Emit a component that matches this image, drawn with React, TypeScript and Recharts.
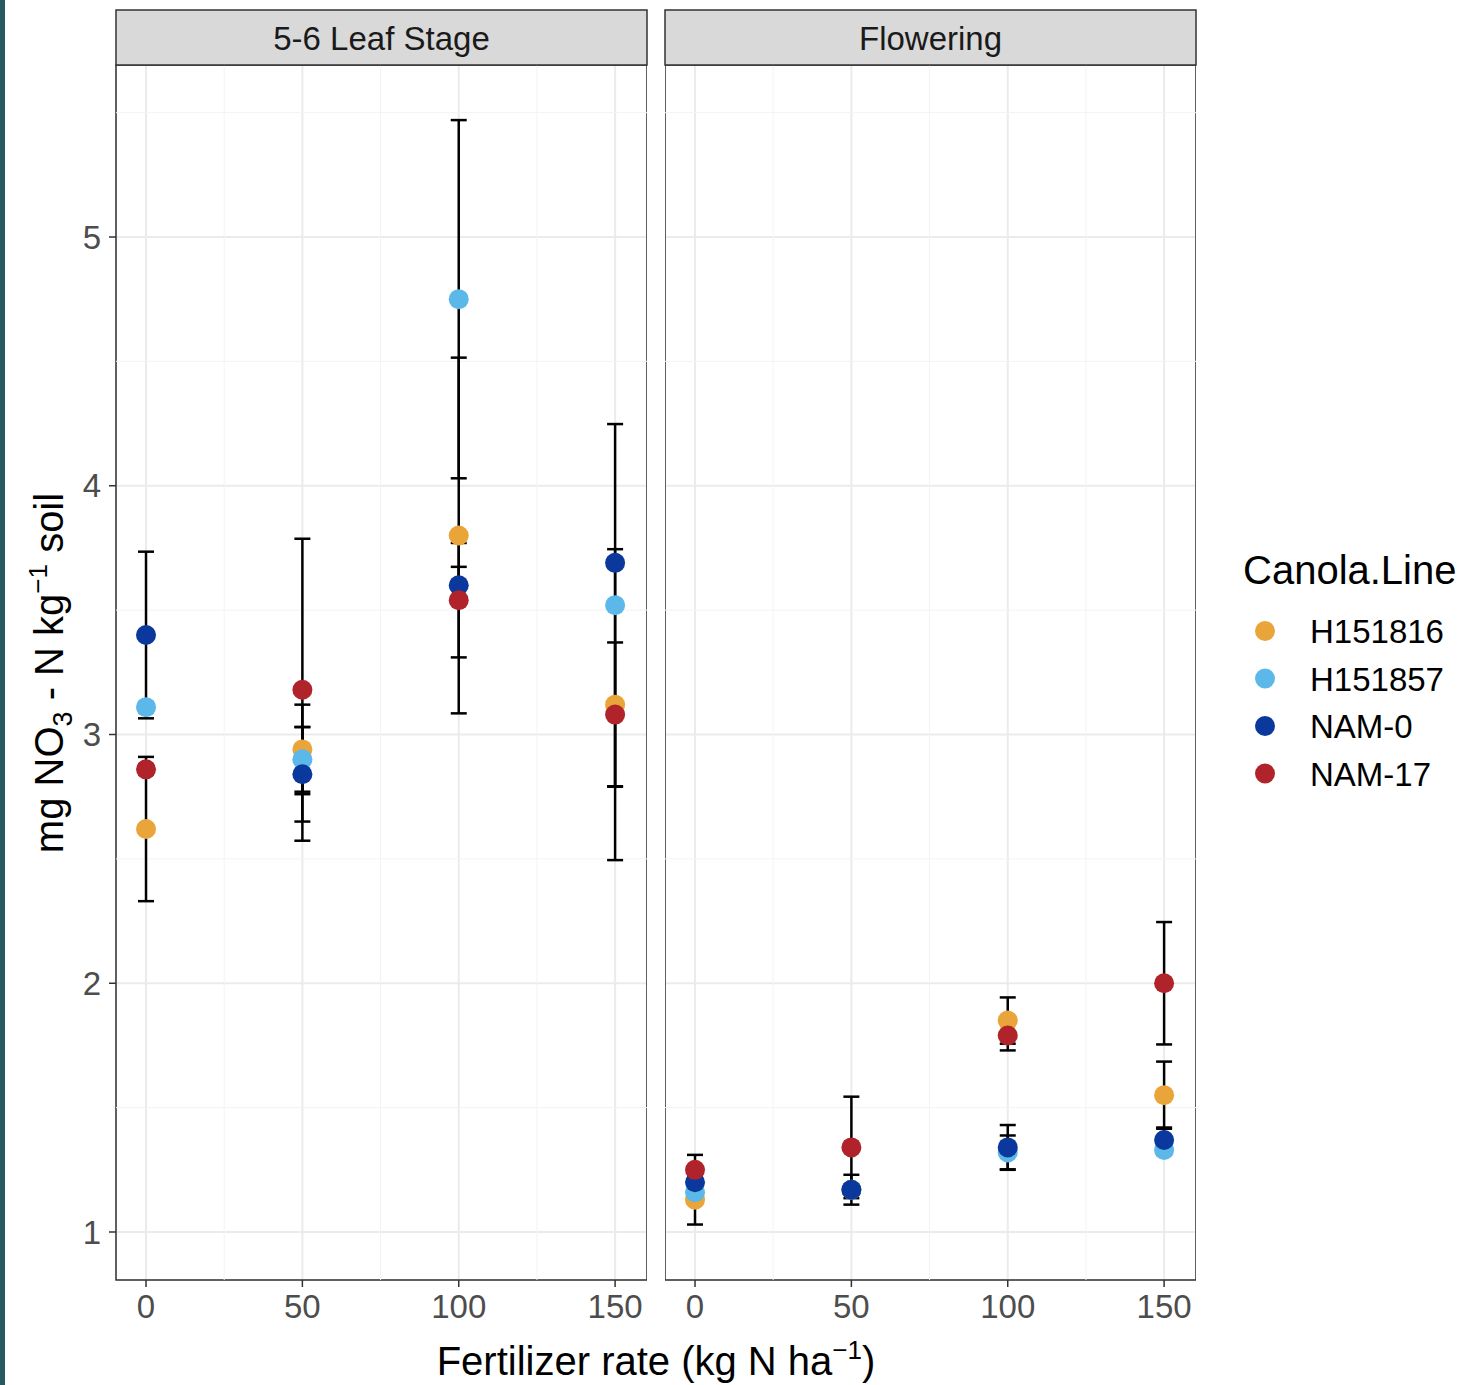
import React from "react"
import {
  ScatterChart,
  Scatter,
  XAxis,
  YAxis,
  CartesianGrid,
  ErrorBar,
  ReferenceLine,
  ReferenceArea
} from "recharts"

const rates = [0, 50, 100, 150]
const canolaLines = ["H151816", "H151857", "NAM-0", "NAM-17"]
const lineColors = ["#E9A53A", "#5BB8E8", "#0A389C", "#B0232A"]
const stages = ["5-6 Leaf Stage", "Flowering"]

// rows follow canolaLines, columns follow rates
const leafMeans = [
  [2.62, 2.94, 3.8, 3.12],
  [3.11, 2.9, 4.75, 3.52],
  [3.4, 2.84, 3.6, 3.69],
  [2.86, 3.18, 3.54, 3.08]
]
const leafSe = [
  [0.29, 0.18, 0.715, 0.625],
  [0.02, 0.13, 0.72, 0.728],
  [0.335, 0.19, 0.074, 0.02],
  [0.02, 0.607, 0.23, 0.29]
]
const flowerMeans = [
  [1.13, 1.17, 1.85, 1.55],
  [1.16, 1.17, 1.32, 1.33],
  [1.2, 1.17, 1.34, 1.37],
  [1.25, 1.34, 1.79, 2.0]
]
const flowerSe = [
  [0.1, 0.02, 0.093, 0.135],
  [0.02, 0.02, 0.068, 0.02],
  [0.02, 0.06, 0.09, 0.05],
  [0.06, 0.204, 0.06, 0.246]
]

const xTicks = [0, 50, 100, 150]
const xMinor = [25, 75, 125]
const yTicks = [1, 2, 3, 4, 5]
const yMinor = [1.5, 2.5, 3.5, 4.5, 5.5]
const xDomain: [number, number] = [-9.6, 160.2]
const yDomain: [number, number] = [0.807, 5.6915]

const FONT = "'Liberation Sans', Arial, Helvetica, sans-serif"
const PLOT_TOP = 65
const X_AXIS_H = 65
const Y_AXIS_W = 116
const CHART_H = 1345

function buildSeries(means: number[][], se: number[][]) {
  return canolaLines.map((line, i) =>
    rates.map((rate, j) => ({ rate, value: means[i][j], se: se[i][j], line }))
  )
}

const dot = (color: string) => (props: any) =>
  <circle cx={props.cx} cy={props.cy} r={10} fill={color} />

function Facet({ means, se, showY, width }: { means: number[][]; se: number[][]; showY: boolean; width: number }) {
  const series = buildSeries(means, se)
  const all = series.flat()
  const tickStyle = { fill: "#4D4D4D", fontSize: 33, fontFamily: FONT }
  return (
    <div style={{ position: "relative", width, height: CHART_H }}>
      {/* base layer: grid, axes, error bars, panel border */}
      <div style={{ position: "absolute", left: 0, top: 0 }}>
        <ScatterChart width={width} height={CHART_H} margin={{ top: PLOT_TOP, right: 0, bottom: 0, left: 0 }}>
          <CartesianGrid stroke="#EBEBEB" strokeWidth={2} />
          {xMinor.map(x => (
            <ReferenceLine key={"mx" + x} x={x} stroke="#F3F3F3" strokeWidth={1} />
          ))}
          {yMinor.map(y => (
            <ReferenceLine key={"my" + y} y={y} stroke="#F3F3F3" strokeWidth={1} />
          ))}
          <XAxis
            type="number"
            dataKey="rate"
            domain={xDomain}
            ticks={xTicks}
            allowDataOverflow
            height={X_AXIS_H}
            axisLine={false}
            tickSize={7}
            tickMargin={8}
            tickLine={{ stroke: "#333", strokeWidth: 1.5 }}
            tick={tickStyle}
          />
          <YAxis
            type="number"
            dataKey="value"
            domain={yDomain}
            ticks={yTicks}
            allowDataOverflow
            hide={!showY}
            width={Y_AXIS_W}
            axisLine={false}
            tickSize={7}
            tickMargin={8}
            tickLine={{ stroke: "#333", strokeWidth: 1.5 }}
            tick={tickStyle}
          />
          <Scatter data={all} shape={() => <g />} isAnimationActive={false}>
            <ErrorBar dataKey="se" direction="y" width={8} stroke="#000" strokeWidth={2.5} />
          </Scatter>
          <ReferenceArea
            x1={xDomain[0]}
            x2={xDomain[1]}
            y1={yDomain[0]}
            y2={yDomain[1]}
            fill="none"
            stroke="#333"
            strokeWidth={1.5}
          />
        </ScatterChart>
      </div>
      {/* top layer: the points, above every error bar */}
      <div style={{ position: "absolute", left: 0, top: 0 }}>
        <ScatterChart
          width={width}
          height={CHART_H}
          margin={{ top: PLOT_TOP, right: 0, bottom: X_AXIS_H, left: showY ? Y_AXIS_W : 0 }}
        >
          <XAxis type="number" dataKey="rate" domain={xDomain} allowDataOverflow hide />
          <YAxis type="number" dataKey="value" domain={yDomain} allowDataOverflow hide />
          {series.map((d, i) => (
            <Scatter
              key={canolaLines[i]}
              name={canolaLines[i]}
              data={d}
              fill={lineColors[i]}
              shape={dot(lineColors[i])}
              isAnimationActive={false}
            />
          ))}
        </ScatterChart>
      </div>
    </div>
  )
}

export default function App() {
  const panels = [
    { left: 116, width: 531 },
    { left: 665, width: 531 }
  ]
  return (
    <div style={{ position: "absolute", left: 0, top: 0, width: 1468, height: 1385, background: "#fff", overflow: "hidden" }}>
      <div style={{ position: "absolute", left: 0, top: 0, width: 5, height: 1385, background: "#27595F" }} />
      <div style={{ position: "absolute", left: 0, top: 0 }}>
        <Facet means={leafMeans} se={leafSe} showY width={647} />
      </div>
      <div style={{ position: "absolute", left: 665, top: 0 }}>
        <Facet means={flowerMeans} se={flowerSe} showY={false} width={531} />
      </div>
      <svg width={1468} height={1385} style={{ position: "absolute", left: 0, top: 0, pointerEvents: "none" }} fontFamily={FONT}>
        {panels.map((p, i) => (
          <g key={stages[i]}>
            <rect x={p.left} y={10} width={p.width} height={55} fill="#D9D9D9" stroke="#333" strokeWidth={1.5} />
            <text x={p.left + p.width / 2} y={50} textAnchor="middle" fontSize={33} fill="#1A1A1A">
              {stages[i]}
            </text>
          </g>
        ))}
        <text x={656} y={1375} textAnchor="middle" fontSize={40} fill="#000">
          Fertilizer rate (kg N ha
          <tspan dy={-16} fontSize={26}>−1</tspan>
          <tspan dy={16}>)</tspan>
        </text>
        <text x={63} y={673} textAnchor="middle" fontSize={40} fill="#000" transform="rotate(-90, 63, 673)">
          mg NO
          <tspan dy={9} fontSize={27}>3</tspan>
          <tspan dy={-9}> - N kg</tspan>
          <tspan dy={-16} fontSize={26}>−1</tspan>
          <tspan dy={16}> soil</tspan>
        </text>
        <text x={1243} y={584} fontSize={40} fill="#000">Canola.Line</text>
        {canolaLines.map((name, i) => (
          <g key={name}>
            <circle cx={1265} cy={631 + i * 47.5} r={10} fill={lineColors[i]} />
            <text x={1310} y={631 + i * 47.5 + 12} fontSize={33} fill="#000">{name}</text>
          </g>
        ))}
      </svg>
    </div>
  )
}
